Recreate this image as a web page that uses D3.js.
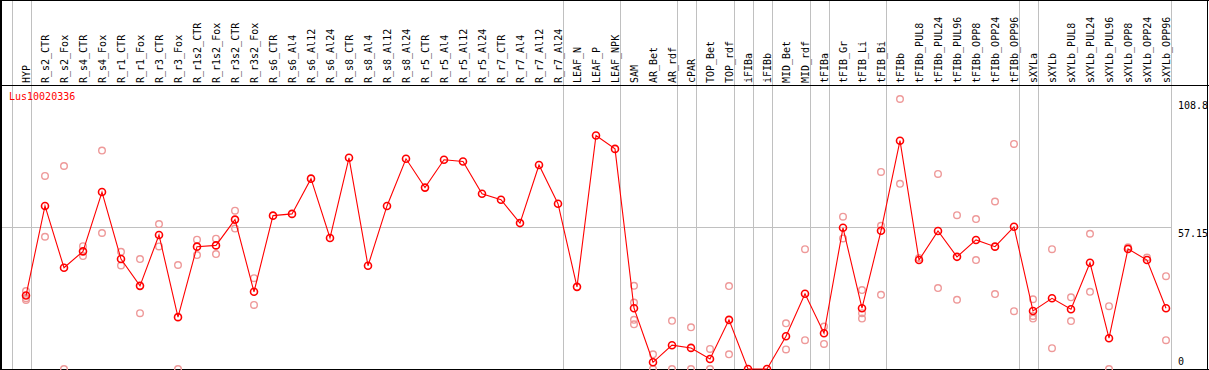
<!DOCTYPE html>
<html>
<head>
<meta charset="utf-8">
<script src="https://cdn.jsdelivr.net/npm/d3@7"></script>
<style>
  body { margin: 0; background: #fff; }
  svg { display: block; }
  text { font-family: "DejaVu Sans Mono", monospace; font-size: 10px; }
</style>
</head>
<body>
<div id="chart"></div>
<script>
// Probennamen (Spalten)
const samples = [
  "HYP", "R_s2_CTR", "R_s2_Fox", "R_s4_CTR", "R_s4_Fox", "R_r1_CTR", "R_r1_Fox",
  "R_r3_CTR", "R_r3_Fox", "R_r1s2_CTR", "R_r1s2_Fox", "R_r3s2_CTR", "R_r3s2_Fox",
  "R_s6_CTR", "R_s6_Al4", "R_s6_Al12", "R_s6_Al24", "R_s8_CTR", "R_s8_Al4", "R_s8_Al12",
  "R_s8_Al24", "R_r5_CTR", "R_r5_Al4", "R_r5_Al12", "R_r5_Al24", "R_r7_CTR", "R_r7_Al4",
  "R_r7_Al12", "R_r7_Al24", "LEAF_N", "LEAF_P", "LEAF_NPK", "SAM", "AR_Bet", "AR_rdf",
  "cPAR", "TOP_Bet", "TOP_rdf", "iFIBa", "iFIBb", "MID_Bet", "MID_rdf", "tFIBa",
  "tFIB_Gr", "tFIB_Li", "tFIB_Bi", "tFIBb", "tFIBb_PUL8", "tFIBb_PUL24", "tFIBb_PUL96",
  "tFIBb_OPP8", "tFIBb_OPP24", "tFIBb_OPP96", "sXYLa", "sXYLb", "sXYLb_PUL8",
  "sXYLb_PUL24", "sXYLb_PUL96", "sXYLb_OPP8", "sXYLb_OPP24", "sXYLb_OPP96"
];

// Mittelwerte
const means = [
  29.6, 65.7, 40.8, 47.4, 71.3, 44.3, 33.5, 54.0, 20.9, 49.3, 49.8, 60.2, 31.1, 61.8, 62.5,
  76.7, 52.8, 85.1, 41.6, 65.7, 84.7, 73.1, 84.3, 83.6, 70.6, 68.2, 58.8, 82.2, 66.6,
  33.1, 94.1, 88.7,
  24.5, 2.7, 9.6, 8.5, 4.0, 19.8, 0, 0, 13.2, 30.3, 14.4, 56.9, 24.5, 55.7, 92.0,
  43.9, 55.6, 45.2, 52.0, 49.3, 57.3,
  23.4, 28.5, 24.1, 42.8, 12.4, 48.4, 43.9, 24.5
];

// Einzelwerte (Replikate)
const replicates = [
  [31.4, 27.8, 28.5], [77.8, 53.3], [81.8, 0], [49.5, 45.5], [88.0, 54.8], [47.2, 41.7],
  [44.3, 22.5], [58.4, 49.4], [41.9, 0], [52.1, 45.9], [52.5, 46.3], [63.8, 56.6], [36.6, 25.8],
  [], [], [], [], [], [], [], [], [], [], [], [], [], [], [], [],
  [], [], [],
  [33.5, 26.8, 19.8, 18.0], [5.9, 0], [19.4, 0], [16.8, 0], [8.1, 0], [33.4, 5.9], [], [],
  [18.4, 7.9], [48.3, 11.6], [17.1, 10.1], [61.4, 52.6], [31.8, 22.5, 20.3],
  [79.4, 57.7, 29.9], [108.8, 74.6],
  [44.7], [78.6, 32.6], [62.0, 27.9], [60.4, 43.9], [67.5, 30.2], [90.7, 23.3],
  [28.1, 21.4, 20.3], [48.3, 8.4], [28.9, 19.3], [54.5, 31.1], [25.3, 0], [49.1], [44.9],
  [37.4, 11.6]
];

// Gruppengrenzen (Index der letzten Spalte jeder Gruppe)
const groupEnds = [-1, 0, 28, 31, 34, 35, 37, 38, 39, 41, 42, 45, 52, 53, 60];

// Achsenbeschriftungen rechts
const yTicks = [108.8, 57.15, 0];
const geneName = "Lus10020336";

const width = 1209;
const height = 370;
const headerBottom = 85;
const plotBottom = 369;

const svg = d3.select("#chart").append("svg")
    .attr("width", width)
    .attr("height", height);

const x = d3.scaleLinear().domain([0, samples.length - 1]).range([26, 1166]);
const y = d3.scaleLinear().domain([0, 108.8]).range([plotBottom, 99]);

// Raster
svg.append("g")
    .selectAll("line")
    .data(groupEnds)
    .join("line")
    .attr("x1", d => Math.round(x(d) + 5) + 0.5)
    .attr("x2", d => Math.round(x(d) + 5) + 0.5)
    .attr("y1", 0)
    .attr("y2", plotBottom)
    .attr("stroke", "#c0c0c0")
    .attr("shape-rendering", "crispEdges");

svg.append("line")
    .attr("x1", 0).attr("x2", Math.round(x(60) + 5))
    .attr("y1", Math.round(y(57.15)) + 0.5).attr("y2", Math.round(y(57.15)) + 0.5)
    .attr("stroke", "#c0c0c0")
    .attr("shape-rendering", "crispEdges");

// Rahmen
const frame = [
    [0, 0.5, width, 0.5],
    [0, headerBottom + 0.5, width, headerBottom + 0.5],
    [0, plotBottom + 0.5, width, plotBottom + 0.5],
    [1, 0, 1, height],
    [width - 1.5, 0, width - 1.5, height]
];
svg.append("g")
    .selectAll("line")
    .data(frame)
    .join("line")
    .attr("x1", d => d[0]).attr("y1", d => d[1])
    .attr("x2", d => d[2]).attr("y2", d => d[3])
    .attr("stroke", "#000")
    .attr("stroke-width", (d, i) => i === 3 ? 2 : 1.3)
    .attr("shape-rendering", "crispEdges");

// Spaltenbeschriftungen
svg.append("g")
    .selectAll("text")
    .data(samples)
    .join("text")
    .attr("transform", (d, i) => `translate(${x(i) + 3.5},${headerBottom - 2}) rotate(-90)`)
    .attr("fill", "#000")
    .text(d => d);

// Genname
svg.append("text")
    .attr("x", 9)
    .attr("y", 100)
    .attr("fill", "#ff0000")
    .text(geneName);

// Werte rechts
svg.append("g")
    .selectAll("text")
    .data(yTicks)
    .join("text")
    .attr("x", 1178)
    .attr("y", d => d === 0 ? y(d) - 4 : y(d) + 10)
    .attr("fill", "#000")
    .text(d => d);

// Replikate
const repPoints = [];
replicates.forEach((reps, i) => reps.forEach(v => repPoints.push({ i, v })));

svg.append("g")
    .selectAll("circle")
    .data(repPoints)
    .join("circle")
    .attr("cx", d => x(d.i))
    .attr("cy", d => y(d.v))
    .attr("r", 3.3)
    .attr("fill", "none")
    .attr("stroke", "#ee9999")
    .attr("stroke-width", 1.4);

// Linie der Mittelwerte
const line = d3.line()
    .x((d, i) => x(i))
    .y(d => y(d));

svg.append("path")
    .datum(means)
    .attr("d", line)
    .attr("fill", "none")
    .attr("stroke", "#ff0000")
    .attr("stroke-width", 1.1);

svg.append("g")
    .selectAll("circle")
    .data(means)
    .join("circle")
    .attr("cx", (d, i) => x(i))
    .attr("cy", d => y(d))
    .attr("r", 3.5)
    .attr("fill", "none")
    .attr("stroke", "#ff0000")
    .attr("stroke-width", 1.6);
</script>
</body>
</html>
